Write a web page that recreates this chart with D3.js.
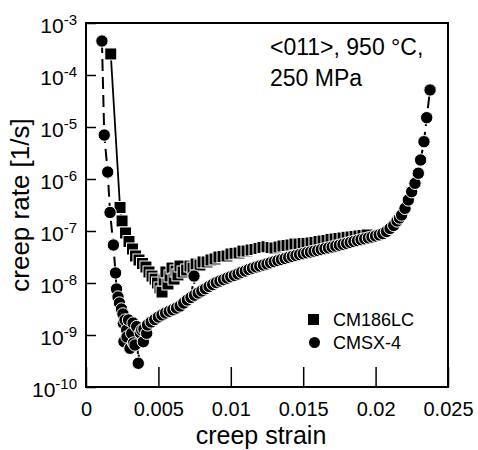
<!DOCTYPE html>
<html>
<head>
<meta charset="utf-8">
<script src="https://cdn.jsdelivr.net/npm/d3@7"></script>
<style>
  body { margin: 0; background: #fff; }
  text { font-family: "Liberation Sans", Arial, sans-serif; fill: #000; }
</style>
</head>
<body>
<div id="chart"></div>
<script>
// creep rate vs creep strain, <011> 950 C 250 MPa
var svgWidth = 478;
var svgHeight = 450;

var margin = {
  top: 23,
  right: 30,
  bottom: 63,
  left: 86
};

var width = svgWidth - margin.left - margin.right;
var height = svgHeight - margin.top - margin.bottom;

// data: [creep strain, creep rate 1/s]
var cm186lc = [
  [0.00171, 2.54e-4], [0.00235, 2.83e-7], [0.00249, 1.56e-7], [0.00273, 9.16e-8], [0.00297, 6.28e-8],
  [0.00321, 4.51e-8], [0.00342, 3.31e-8], [0.00366, 2.77e-8], [0.0039, 2.37e-8], [0.00414, 2.03e-8],
  [0.00435, 1.63e-8], [0.00456, 1.36e-8], [0.00477, 1.19e-8], [0.00494, 1.0e-8], [0.00511, 8.02e-9],
  [0.00525, 6.71e-9], [0.00539, 1.14e-8], [0.00552, 1.63e-8], [0.00566, 9.57e-9], [0.0058, 1.36e-8],
  [0.00594, 1.94e-8], [0.00608, 1.19e-8], [0.00622, 1.70e-8], [0.00635, 1.43e-8], [0.00649, 2.12e-8],
  [0.0067, 1.63e-8], [0.00695, 1.78e-8], [0.00718, 2.12e-8], [0.00739, 1.94e-8], [0.0076, 2.32e-8],
  [0.00787, 2.22e-8], [0.00808, 2.54e-8], [0.00836, 2.54e-8], [0.00863, 2.77e-8], [0.00891, 2.90e-8],
  [0.00918, 3.16e-8], [0.00946, 3.23e-8], [0.00974, 3.31e-8], [0.01001, 3.61e-8], [0.01029, 3.72e-8],
  [0.01057, 3.78e-8], [0.01084, 4.12e-8], [0.01112, 4.12e-8], [0.0114, 4.31e-8], [0.01167, 4.41e-8],
  [0.01195, 4.61e-8], [0.01222, 4.82e-8], [0.0125, 4.99e-8], [0.01278, 4.82e-8], [0.01305, 4.71e-8],
  [0.01333, 4.92e-8], [0.0136, 5.15e-8], [0.01388, 5.26e-8], [0.01416, 5.38e-8], [0.01443, 5.62e-8],
  [0.01471, 5.62e-8], [0.01499, 5.75e-8], [0.01526, 5.78e-8], [0.01554, 5.88e-8], [0.01581, 6.01e-8],
  [0.01609, 6.28e-8], [0.01637, 6.42e-8], [0.01664, 6.56e-8], [0.01692, 6.87e-8], [0.0172, 7.02e-8],
  [0.01747, 7.18e-8], [0.01775, 7.33e-8], [0.01803, 7.57e-8], [0.0183, 7.67e-8], [0.01858, 7.84e-8],
  [0.01885, 8.02e-8], [0.01913, 8.19e-8], [0.01941, 8.38e-8]
];

var cmsx4 = [
  [0.0011, 4.5e-4], [0.00126, 7.0e-6], [0.0015, 1.36e-6], [0.00166, 2.27e-7], [0.00189, 5.38e-8],
  [0.00204, 1.56e-8], [0.00211, 7.67e-9], [0.00221, 5.38e-9], [0.00231, 4.12e-9], [0.00245, 3.16e-9],
  [0.00255, 2.54e-9], [0.00258, 1.68e-9], [0.00262, 7.43e-10], [0.00269, 1.94e-9], [0.00281, 1.25e-9],
  [0.00283, 9.16e-10], [0.00294, 1.94e-9], [0.00304, 5.55e-10], [0.00316, 1.08e-9], [0.00325, 1.70e-9],
  [0.00328, 7.02e-10], [0.00338, 6.42e-10], [0.0035, 1.45e-9], [0.00361, 2.86e-10], [0.00375, 1.10e-9],
  [0.00385, 1.25e-9], [0.00396, 7.43e-10], [0.004, 1.30e-9], [0.00419, 1.08e-9], [0.00425, 1.56e-9],
  [0.0045, 1.78e-9], [0.00475, 1.99e-9], [0.005, 2.22e-9], [0.00525, 2.43e-9], [0.0055, 2.65e-9],
  [0.00575, 2.86e-9], [0.006, 3.05e-9], [0.00625, 3.30e-9], [0.0065, 3.61e-9], [0.00675, 4.12e-9],
  [0.007, 4.71e-9], [0.00725, 5.26e-9], [0.00746, 1.36e-8], [0.0075, 5.82e-9], [0.00775, 6.42e-9],
  [0.008, 7.02e-9], [0.00825, 7.76e-9], [0.0085, 8.57e-9], [0.00875, 9.35e-9], [0.009, 1.02e-8],
  [0.00925, 1.09e-8], [0.0095, 1.16e-8], [0.00975, 1.24e-8], [0.01, 1.32e-8], [0.01025, 1.40e-8],
  [0.0105, 1.49e-8], [0.01075, 1.61e-8], [0.011, 1.70e-8], [0.01125, 1.82e-8], [0.0115, 1.93e-8],
  [0.01175, 2.03e-8], [0.012, 2.12e-8], [0.01225, 2.22e-8], [0.0125, 2.32e-8], [0.01275, 2.45e-8],
  [0.013, 2.57e-8], [0.01325, 2.70e-8], [0.0135, 2.83e-8], [0.01375, 2.96e-8], [0.014, 3.11e-8],
  [0.01425, 3.25e-8], [0.0145, 3.38e-8], [0.01475, 3.52e-8], [0.015, 3.66e-8], [0.01525, 3.81e-8],
  [0.0155, 3.95e-8], [0.01575, 4.09e-8], [0.016, 4.22e-8], [0.01625, 4.39e-8], [0.0165, 4.57e-8],
  [0.01675, 4.73e-8], [0.017, 4.92e-8], [0.01725, 5.13e-8], [0.0175, 5.33e-8], [0.01775, 5.55e-8],
  [0.018, 5.78e-8], [0.01825, 6.04e-8], [0.0185, 6.28e-8], [0.01875, 6.53e-8], [0.019, 6.81e-8],
  [0.01925, 7.08e-8], [0.0195, 7.37e-8], [0.01975, 7.67e-8], [0.02, 8.02e-8], [0.02025, 8.41e-8],
  [0.0205, 8.91e-8], [0.02075, 9.78e-8], [0.021, 1.12e-7], [0.02125, 1.28e-7], [0.02148, 1.56e-7],
  [0.02165, 1.78e-7], [0.0218, 2.03e-7], [0.02203, 2.73e-7], [0.02226, 3.95e-7], [0.02249, 5.70e-7],
  [0.02272, 8.26e-7], [0.02295, 1.29e-6], [0.02311, 2.32e-6], [0.02334, 5.21e-6], [0.02353, 1.51e-5],
  [0.02376, 5.15e-5]
];

var xTicks = [0, 0.005, 0.01, 0.015, 0.02, 0.025];
var xTickLabels = ["0", "0.005", "0.01", "0.015", "0.02", "0.025"];
var yTickExps = [-10, -9, -8, -7, -6, -5, -4, -3];
var seriesNames = ["CM186LC", "CMSX-4"];

var svg = d3
  .select("#chart")
  .append("svg")
  .attr("width", svgWidth)
  .attr("height", svgHeight);

var chartGroup = svg.append("g")
  .attr("transform", `translate(${margin.left}, ${margin.top})`);

// scales
var xScale = d3.scaleLinear()
  .domain([0, 0.025])
  .range([0, width]);

var yScale = d3.scaleLog()
  .domain([1e-10, 1e-3])
  .range([height, 0]);

// x axis, ticks pointing inward
var bottomAxis = d3.axisBottom(xScale)
  .tickValues(xTicks)
  .tickSizeInner(-20)
  .tickSizeOuter(0)
  .tickFormat((d, i) => xTickLabels[i]);

var xAxis = chartGroup.append("g")
  .attr("transform", `translate(0, ${height})`)
  .call(bottomAxis);

xAxis.select(".domain").remove();
xAxis.selectAll("line").attr("stroke", "#000").attr("stroke-width", 1.5);
xAxis.selectAll("text")
  .attr("y", 29)
  .attr("dy", 0)
  .style("font-size", "20px")
  .style("font-family", "'Liberation Sans', Arial, sans-serif");

// y axis, log, labels as 10^n
var leftAxis = d3.axisLeft(yScale)
  .tickValues(yTickExps.map(e => Math.pow(10, e)))
  .tickSizeInner(-10)
  .tickSizeOuter(0)
  .tickFormat("");

var yAxis = chartGroup.append("g")
  .call(leftAxis);

yAxis.select(".domain").remove();
yAxis.selectAll("line").attr("stroke", "#000").attr("stroke-width", 1.5);

var yLabels = chartGroup.append("g");
yTickExps.forEach(function(e) {
  var t = yLabels.append("text")
    .attr("x", -9)
    .attr("y", yScale(Math.pow(10, e)) + 9.5)
    .attr("text-anchor", "end")
    .style("font-size", "21px");
  t.append("tspan").text("10");
  t.append("tspan")
    .attr("dy", -8)
    .style("font-size", "15px")
    .text(e);
});

// frame
chartGroup.append("rect")
  .attr("x", 0)
  .attr("y", 0)
  .attr("width", width)
  .attr("height", height)
  .attr("fill", "none")
  .attr("stroke", "#000")
  .attr("stroke-width", 2);

// connecting lines
var line = d3.line()
  .x(d => xScale(d[0]))
  .y(d => yScale(d[1]));

chartGroup.append("path")
  .datum(cm186lc)
  .attr("d", line)
  .attr("fill", "none")
  .attr("stroke", "#000")
  .attr("stroke-width", 1.8);

chartGroup.append("path")
  .datum(cmsx4)
  .attr("d", line)
  .attr("fill", "none")
  .attr("stroke", "#000")
  .attr("stroke-width", 2)
  .attr("stroke-dasharray", "12,6");

// markers
chartGroup.selectAll(".sq")
  .data(cm186lc)
  .enter()
  .append("rect")
  .attr("class", "sq")
  .attr("x", d => xScale(d[0]) - 6)
  .attr("y", d => yScale(d[1]) - 6)
  .attr("width", 12)
  .attr("height", 12)
  .attr("fill", "#000")
  .attr("stroke", "#fff")
  .attr("stroke-width", 1);

chartGroup.selectAll(".dot")
  .data(cmsx4)
  .enter()
  .append("circle")
  .attr("class", "dot")
  .attr("cx", d => xScale(d[0]))
  .attr("cy", d => yScale(d[1]))
  .attr("r", 6.2)
  .attr("fill", "#000")
  .attr("stroke", "#fff")
  .attr("stroke-width", 1);

// legend
var legend = svg.append("g");
legend.append("rect")
  .attr("x", 308)
  .attr("y", 314)
  .attr("width", 11)
  .attr("height", 11)
  .attr("fill", "#000");
legend.append("circle")
  .attr("cx", 314.5)
  .attr("cy", 342.5)
  .attr("r", 5.5)
  .attr("fill", "#000");
legend.append("text")
  .attr("x", 333)
  .attr("y", 326)
  .style("font-size", "18px")
  .text(seriesNames[0]);
legend.append("text")
  .attr("x", 333)
  .attr("y", 349)
  .style("font-size", "18px")
  .text(seriesNames[1]);

// annotation
svg.append("text")
  .attr("x", 270)
  .attr("y", 55)
  .style("font-size", "23px")
  .text("<011>, 950 °C,");
svg.append("text")
  .attr("x", 270)
  .attr("y", 86)
  .style("font-size", "23px")
  .text("250 MPa");

// axis titles
svg.append("text")
  .attr("x", margin.left + width / 2 - 6)
  .attr("y", 444)
  .attr("text-anchor", "middle")
  .style("font-size", "25px")
  .text("creep strain");

svg.append("text")
  .attr("transform", `translate(29, ${margin.top + height / 2}) rotate(-90)`)
  .attr("text-anchor", "middle")
  .style("font-size", "26px")
  .text("creep rate [1/s]");
</script>
</body>
</html>
